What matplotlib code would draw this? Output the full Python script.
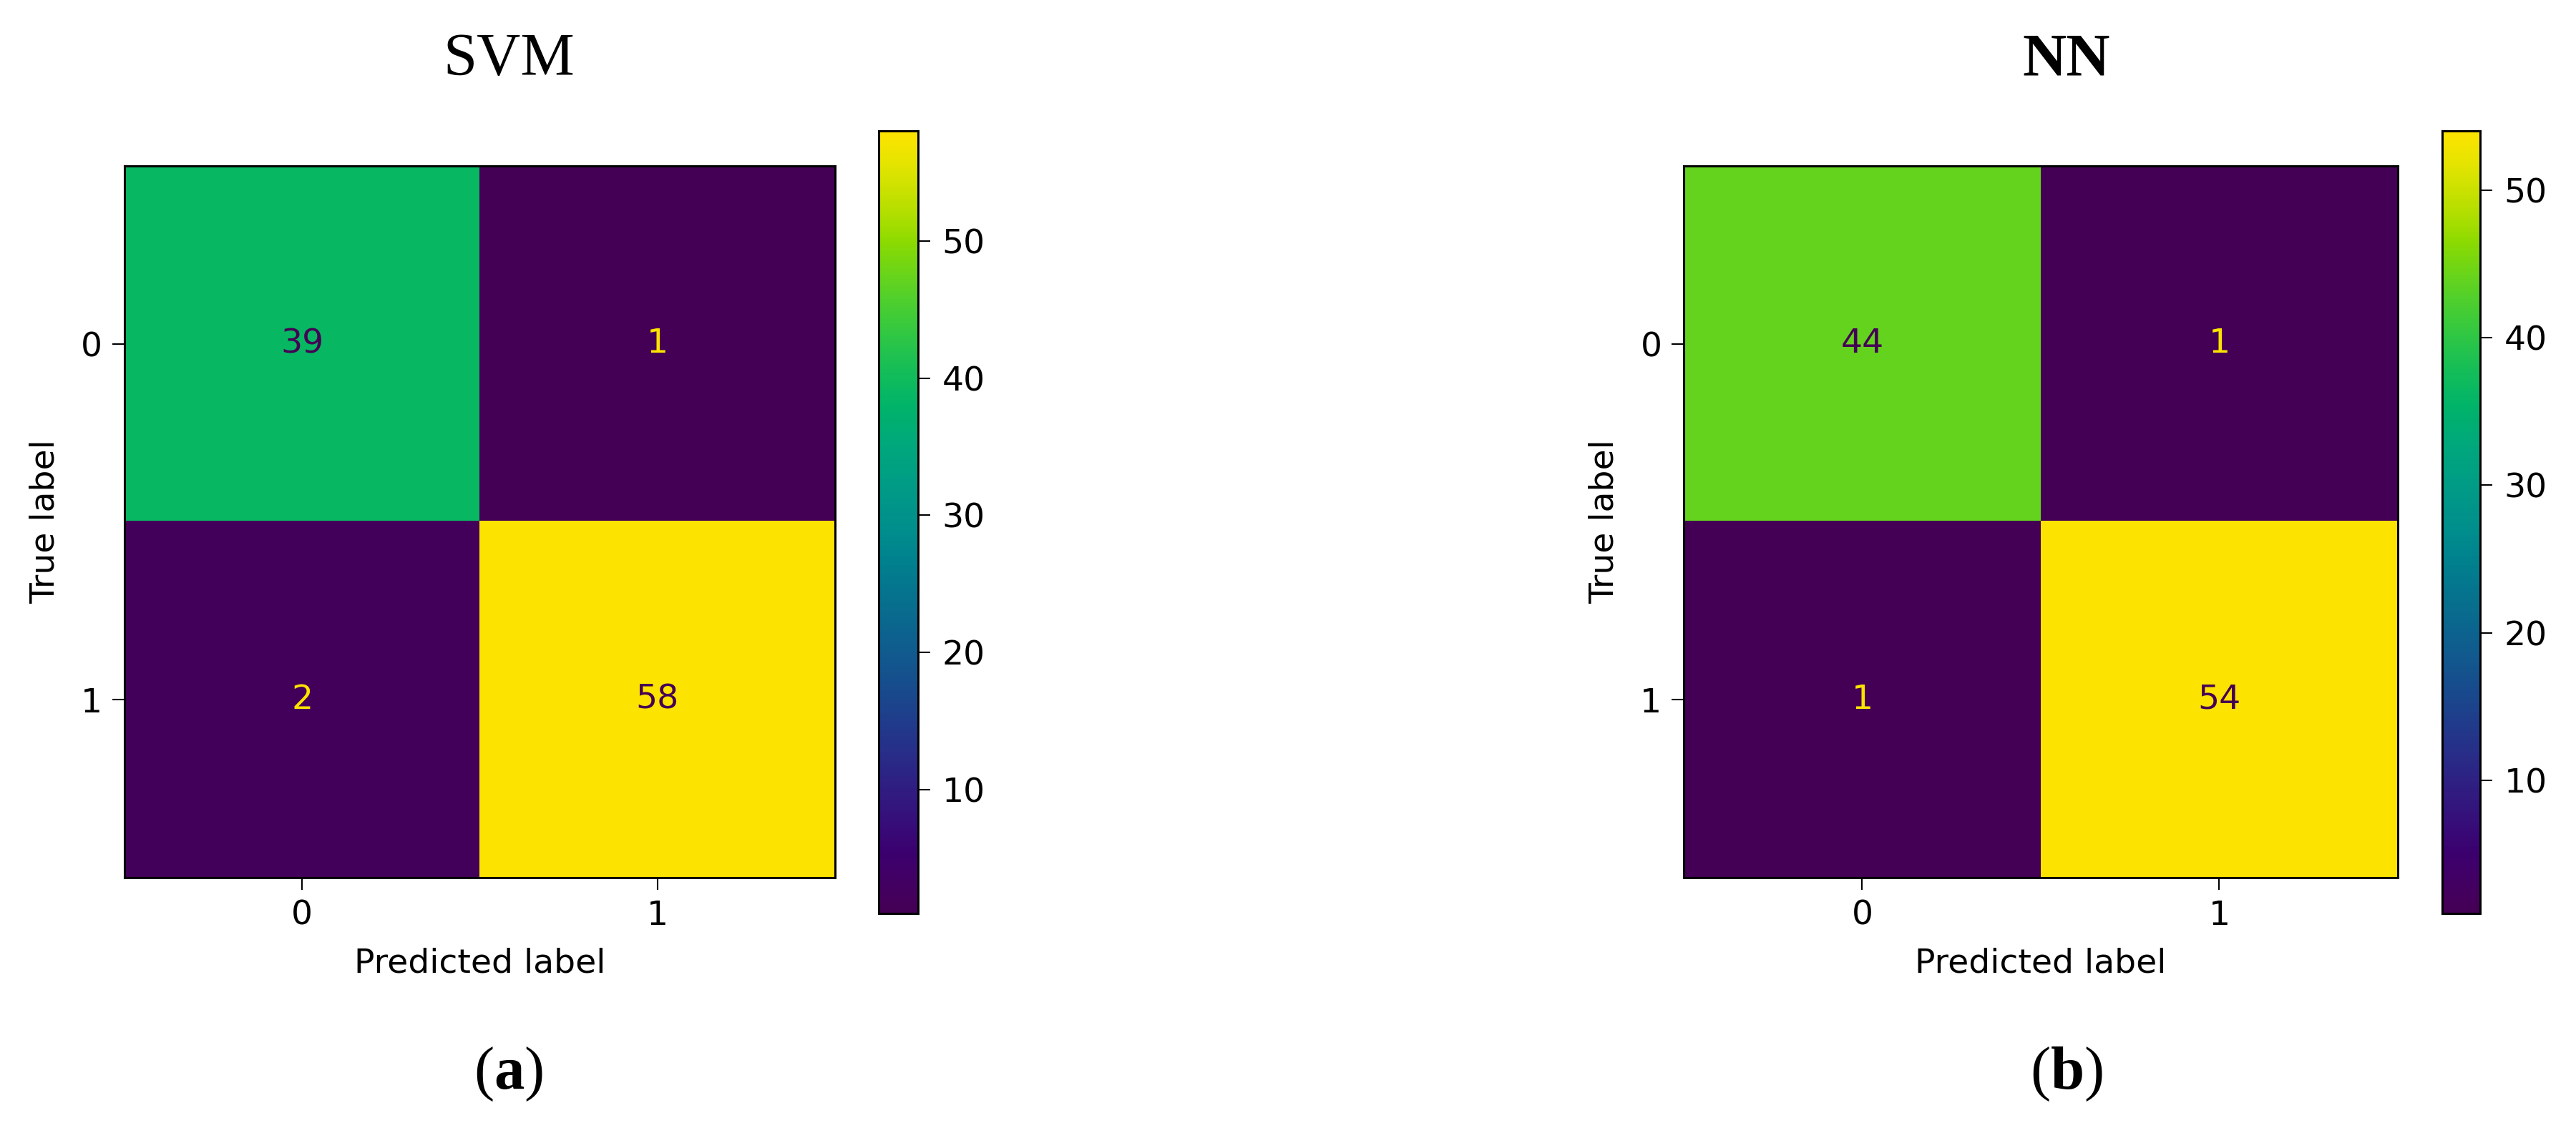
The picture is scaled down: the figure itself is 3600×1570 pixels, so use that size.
import numpy as np
import matplotlib
matplotlib.use("Agg")
import matplotlib.pyplot as plt
from matplotlib import colors as mcolors

# confusion matrices
labels = ["0", "1"]
svm_cm = np.array([[39, 1],
                   [2, 58]])
nn_cm = np.array([[44, 1],
                  [1, 54]])
titles = ["SVM", "NN"]
captions = ["a", "b"]

plt.rcParams["font.family"] = "DejaVu Sans"
plt.rcParams["mathtext.fontset"] = "custom"
plt.rcParams["mathtext.rm"] = "Liberation Serif"
plt.rcParams["mathtext.bf"] = "Liberation Serif:bold"

# the reference viridis looks a bit more saturated than stock
base = plt.get_cmap("viridis")(np.linspace(0, 1, 256))[:, :3]
hsv = mcolors.rgb_to_hsv(base)
hsv[:, 1] = np.clip(hsv[:, 1] * 1.35, 0, 1)
cmap = mcolors.ListedColormap(mcolors.hsv_to_rgb(hsv), name="viridis_sat")

FS = 34
fig = plt.figure(figsize=(36, 15.7), dpi=100)

panels = [
    (svm_cm, [0.0483, 0.2185, 0.2758, 0.6338], [0.3411, 0.1866, 0.0153, 0.6968], 0.1975),
    (nn_cm, [0.6536, 0.2185, 0.2772, 0.6338], [0.9481, 0.1866, 0.0148, 0.6968], 0.8022),
]

for i, (cm, ax_rect, cb_rect, xc) in enumerate(panels):
    ax = fig.add_axes(ax_rect)
    cax = fig.add_axes(cb_rect)
    im = ax.imshow(cm, cmap=cmap, interpolation="nearest", aspect="auto")
    thresh = (cm.max() + cm.min()) / 2.0
    for r in range(cm.shape[0]):
        for c in range(cm.shape[1]):
            col = cmap(1.0) if cm[r, c] < thresh else cmap(0.0)
            ax.text(c, r, str(cm[r, c]), ha="center", va="center",
                    color=col, fontsize=FS)
    ax.set_xticks(range(len(labels)), labels)
    ax.set_yticks(range(len(labels)), labels)
    ax.set_xlabel("Predicted label", fontsize=FS, labelpad=16)
    ax.set_ylabel("True label", fontsize=FS, labelpad=20)
    ax.tick_params(labelsize=FS, length=12, width=1.5, pad=10)
    for s in ax.spines.values():
        s.set_linewidth(2.2)

    cb = fig.colorbar(im, cax=cax)
    cb.ax.tick_params(labelsize=FS, length=12, width=1.5, pad=12)
    cb.outline.set_linewidth(2.2)

    fig.text(xc, 0.9331, titles[i], ha="center", va="baseline", fontsize=61,
             family="Liberation Serif",
             fontweight="bold" if titles[i] == "NN" else "normal")
    fig.text(xc, 0.0306, r"($\mathbf{%s}$)" % captions[i], ha="center",
             va="baseline", fontsize=61, family="Liberation Serif")

fig.savefig("out.png", dpi=100)
